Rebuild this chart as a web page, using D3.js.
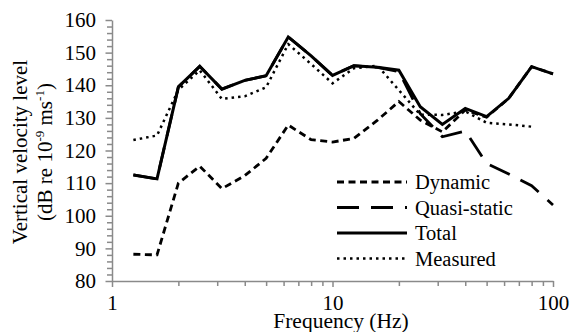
<!DOCTYPE html>
<html><head><meta charset="utf-8">
<script src="https://cdn.jsdelivr.net/npm/d3@7"></script>
<style>body{margin:0;background:#fff}svg{display:block} text{font-family:"Liberation Serif","Times New Roman","DejaVu Serif",serif !important;}</style>
</head><body>
<svg id="chart" width="571" height="332"></svg>
<script>
const freqs = [1.25,1.6,2,2.5,3.15,4,5,6.3,8,10,12.5,16,20,25,31.5,40,50,63,80,100];
const dynamicVals = [88.2,88,110,115.2,108.3,112.3,117.6,127.8,123.3,122.6,123.7,129.3,135,129.3,125.7,132.4,130.2,136,145.7,143.5];
const quasiVals = [112.5,111.3,139.5,145.8,138.8,141.5,142.9,154.8,149,143,146,145.5,144.2,131.3,124.2,126,116,112.8,109.2,103.3];
const totalVals = [112.5,111.3,139.5,145.8,138.8,141.5,142.9,154.8,149,143,146,145.5,144.6,133.4,128,132.9,130.4,136,145.7,143.5];
const measuredVals = [123.2,124.6,138.6,144.6,135.8,136.6,139.4,152.6,146.5,140.6,145.2,146,138.5,131,130.9,132,128.5,128,127.3];
const yTicks = [80,90,100,110,120,130,140,150,160];
const xTicks = [1,10,100];
const xMinor = [2,3,4,5,6,7,8,9,20,30,40,50,60,70,80,90];
const seriesNames = ["Dynamic","Quasi-static","Total","Measured"];

const svg = d3.select("#chart");
const font = "Liberation Serif";
const axisColor = "#8a8a8a";

const x = d3.scaleLog().domain([1,100]).range([112,553]);
const y = d3.scaleLinear().domain([80,160]).range([281,20]);

const yMinor = d3.range(80,161,2).filter(v => v % 10 !== 0);
svg.append("g").attr("transform","translate(112,0)")
  .call(d3.axisLeft(y).tickValues(yMinor).tickSize(5).tickFormat(""))
  .call(g => g.select(".domain").remove())
  .call(g => g.selectAll("line").attr("stroke",axisColor).attr("stroke-width",1.5));
svg.append("g").attr("transform","translate(0,281)")
  .call(d3.axisBottom(x).tickValues(xMinor).tickSize(5).tickFormat(""))
  .call(g => g.select(".domain").remove())
  .call(g => g.selectAll("line").attr("stroke",axisColor).attr("stroke-width",1.5));

const yAxis = svg.append("g").attr("transform","translate(112,0)")
  .call(d3.axisLeft(y).tickValues(yTicks).tickSize(6.5).tickPadding(9.5).tickSizeOuter(0));
const xAxis = svg.append("g").attr("transform","translate(0,281)")
  .call(d3.axisBottom(x).tickValues(xTicks).tickSize(6).tickPadding(8.5).tickSizeOuter(0).tickFormat(d3.format("d")));
[yAxis,xAxis].forEach(g => {
  g.attr("font-family",null).attr("font-size",null);
  g.select(".domain").attr("stroke",axisColor).attr("stroke-width",1.5);
  g.selectAll("line").attr("stroke",axisColor).attr("stroke-width",1.5);
  g.selectAll("text").style("font-family",font).style("font-size","21px").attr("fill","#000");
});

const styles = [
  {dash:"7,4.5", width:2.8},
  {dash:"22,12", width:2.8},
  {dash:null, width:3},
  {dash:"2.5,4", width:2.5}
];
const data = [dynamicVals, quasiVals, totalVals, measuredVals];
const line = d3.line().x(d => x(d[0])).y(d => y(d[1]));
data.forEach((vals,i) => {
  const pts = vals.map((v,j) => [freqs[j], v]);
  svg.append("path").datum(pts)
    .attr("d", line)
    .attr("fill","none")
    .attr("stroke","#000")
    .attr("stroke-width", styles[i].width)
    .attr("stroke-dasharray", styles[i].dash)
    .attr("stroke-linejoin","miter");
});

const legY = [182,207.5,233,258.5];
seriesNames.forEach((name,i) => {
  const g = svg.append("g");
  g.append("line").attr("x1",337).attr("x2",407).attr("y1",legY[i]).attr("y2",legY[i])
    .attr("stroke","#000").attr("stroke-width",styles[i].width)
    .attr("stroke-dasharray",styles[i].dash);
  g.append("text").attr("x",415).attr("y",legY[i]+7)
    .style("font-family",font).style("font-size","20.5px").text(name);
});

svg.append("text").attr("x",341).attr("y",327.5).attr("text-anchor","middle")
  .style("font-family",font).style("font-size","21.5px").text("Frequency (Hz)");
const yt = svg.append("text").attr("transform","translate(27,152) rotate(-90)")
  .attr("text-anchor","middle").style("font-family",font).style("font-size","21px");
yt.append("tspan").attr("x",0).attr("y",0).text("Vertical velocity level");
const t2 = yt.append("tspan").attr("x",0).attr("y",25);
t2.append("tspan").text("(dB re 10");
t2.append("tspan").style("font-size","13px").attr("dy",-8).text("-9");
t2.append("tspan").attr("dy",8).text(" ms");
t2.append("tspan").style("font-size","13px").attr("dy",-8).text("-1");
t2.append("tspan").attr("dy",8).text(")");
</script>
</body></html>
